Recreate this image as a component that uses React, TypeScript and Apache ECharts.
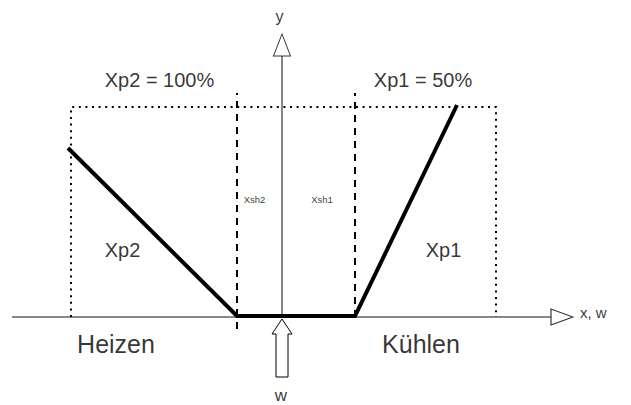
import React, { useEffect, useRef } from 'react';
import * as echarts from 'echarts';

// Diagram coordinates: origin at the set point w on the x axis.
const xAxisLine = [[-270, 0], [269, 0]];
const yAxisLine = [[0, 0], [0, 261]];
const characteristic = [[-214, 169], [-45, 1], [73, 1], [175, 212]];
const proportionalBand = [[-211, 0], [-211, 210], [214, 210], [214, 0]];
const xsh2Line = [[-45, -12], [-45, 224]];
const xsh1Line = [[73, 0], [73, 224]];
const setpointArrow = [[-6, -60], [-6, -17], [-10, -17], [0, -2], [10, -17], [6, -17], [6, -60], [-6, -60]];
const arrowHeads = [
  { name: 'x', value: [280, 0] },
  { name: 'y', value: [0, 272] },
];
const labelTexts = ['y', 'Xp2 = 100%', 'Xp1 = 50%', 'Xsh2', 'Xsh1', 'Xp2', 'Xp1', 'Heizen', 'Kühlen', 'w', 'x, w'];
const labelPositions = [
  [-2.5, 300.5], [-122.5, 237], [141, 237], [-27.5, 117.5], [40, 117.5],
  [-159.5, 67], [161.5, 67], [-166, -27], [139, -27], [-1, -78], [298, 5],
];

const FONT = '"Liberation Sans", Arial, sans-serif';
const fontSizes: Record<string, number> = {
  'y': 16, 'Xp2 = 100%': 20, 'Xp1 = 50%': 20, 'Xsh2': 9.5, 'Xsh1': 9.5,
  'Xp2': 20, 'Xp1': 20, 'Heizen': 25, 'Kühlen': 25, 'w': 17, 'x, w': 15,
};

function line(data: number[][], color: string, width: number, type: any, z = 2) {
  return {
    type: 'line', data, symbol: 'none', silent: true, z,
    lineStyle: { color, width, type, cap: 'butt', join: 'miter' },
  };
}

export default function App() {
  const ref = useRef<HTMLDivElement>(null);
  useEffect(() => {
    const chart = echarts.init(ref.current!, null, { renderer: 'svg' });
    chart.setOption({
      animation: false,
      backgroundColor: '#ffffff',
      grid: { left: 0, right: 0, top: 0, bottom: 0 },
      xAxis: { type: 'value', min: -282, max: 349, show: false },
      yAxis: { type: 'value', min: -88, max: 317, show: false },
      series: [
        line(proportionalBand, '#000', 2, [2, 4.6], 1),
        line(xsh2Line, '#000', 2, [7, 6], 1),
        line(xsh1Line, '#000', 2, [7, 6], 1),
        line(xAxisLine, '#111', 1, 'solid', 2),
        line(yAxisLine, '#444', 1.3, 'solid', 2),
        line(setpointArrow, '#000', 1, 'solid', 3),
        line(characteristic, '#000', 4, 'solid', 4),
        {
          type: 'scatter', silent: true, z: 5,
          data: arrowHeads.map((a) => ({
            value: a.value,
            symbol: 'triangle',
            symbolSize: a.name === 'x' ? [16, 22] : [17, 22],
            symbolRotate: a.name === 'x' ? -90 : 0,
          })),
          itemStyle: { color: '#fff', borderColor: '#000', borderWidth: 1 },
        },
        {
          type: 'scatter', silent: true, z: 6, symbolSize: 0,
          itemStyle: { color: 'transparent' },
          data: labelTexts.map((t, i) => ({
            value: labelPositions[i],
            label: {
              show: true,
              position: 'inside',
              formatter: t,
              fontFamily: FONT,
              fontSize: fontSizes[t],
              color: '#000',
              textBorderWidth: 0,
              textBorderColor: 'transparent',
              align: t === 'x, w' ? 'left' : 'center',
              verticalAlign: 'middle',
            },
          })),
        },
      ],
    });
    return () => chart.dispose();
  }, []);
  return (
    <div
      ref={ref}
      style={{ position: 'absolute', left: 0, top: 0, width: 631, height: 405, background: '#fff' }}
    />
  );
}
